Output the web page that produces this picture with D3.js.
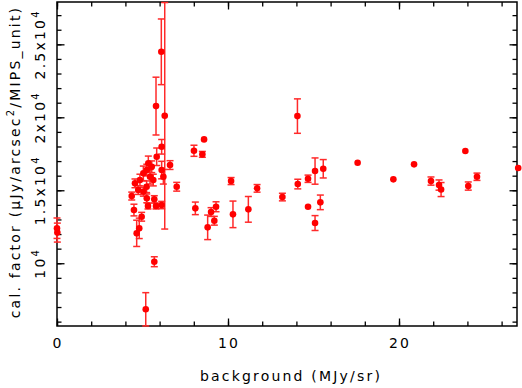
<!DOCTYPE html>
<html>
<head>
<meta charset="utf-8">
<style>
  body { margin: 0; background: #fff; }
  svg { display: block; }
  text { font-family: "DejaVu Sans", sans-serif; font-size: 14px; letter-spacing: 2.2px; fill: #000; }
  .tick line { stroke: #000; stroke-width: 1.3; }
  .domain { display: none; }
</style>
</head>
<body>
<script src="https://d3js.org/d3.v7.min.js"></script>
<script>

var width = 522,
    height = 388;
var margin = {"top": 2, "right": 5, "bottom": 62, "left": 57};

// background (MJy/sr)
var bgValues = [
  0.00, 0.02,
  4.37, 4.50, 4.66, 4.81, 4.56, 4.85, 5.05, 5.25, 5.34, 5.54, 5.83, 6.12, 6.61, 7.00,
  6.12, 5.05, 5.25, 5.69, 4.95, 4.75, 5.44, 5.63, 6.12, 6.22, 5.24, 5.32, 5.79,
  5.69, 5.19, 6.10, 5.79, 6.30,
  8.01, 8.60, 8.50, 8.09, 8.81, 9.01, 9.20, 9.30, 10.18, 10.29, 11.19, 11.70, 13.18,
  14.08, 14.06, 14.68, 14.68, 15.09, 15.09, 15.40, 15.57,
  17.58, 19.67, 20.88, 21.87, 22.34, 22.46, 23.88, 24.05, 24.56, 26.97
];

// cal. factor
var calValues = [
  12400, 12100,
  14604, 13645, 12049, 12391, 15474, 15700, 16158, 16384, 16843, 16611, 17296, 17980, 16727, 15241,
  13987, 14898, 14446, 14378, 13186, 15015, 15926, 15700, 16384, 15926, 15241, 13919, 13919,
  10104, 6844, 24487, 20768, 20103,
  17706, 18487, 17460, 13761, 12460, 13508, 12912, 13871, 15631, 13350, 13693, 15131, 14535,
  15426, 20083, 15789, 13871, 16316, 12754, 14172, 16473,
  16884, 15747, 16775, 15631, 15357, 15049, 17686, 15289, 15926, 16522
];

// error on cal. factor
var calErrors = [
  700, 650,
  270, 400, 900, 700, 300, 400, 500, 400, 500, 400, 600, 500, 300, 300,
  250, 300, 300, 250, 300, 300, 500, 400, 600, 500, 400, 200, 200,
  340, 1140, 2250, 1980, 7760,
  380, 0, 200, 430, 840, 300, 300, 340, 240, 910, 880, 260, 260,
  330, 1180, 250, 0, 900, 510, 500, 630,
  0, 0, 0, 280, 350, 480, 0, 280, 250, 0
];

var xMajor = [0, 10, 20];
var yMajor = [10000, 15000, 20000, 25000];
var yMajorLabels = [["10", "4"], ["1.5x10", "4"], ["2x10", "4"], ["2.5x10", "4"]];

var data = bgValues.map(function(d, i) {
  return {"x": d, "y": calValues[i], "e": calErrors[i]};
});

var svg = d3.select("body").append("svg")
    .attr("width", width)
    .attr("height", height);

var x = d3.scaleLinear().domain([0, 26.9]).range([margin.left, width - margin.right]);
var y = d3.scaleLinear().domain([5700, 27900]).range([height - margin.bottom, margin.top]);

var x0 = margin.left, x1 = width - margin.right;
var y0 = height - margin.bottom, y1 = margin.top;

// ticks on all four sides, pointing in
function ticks(axis, pos, values, size) {
  svg.append("g")
    .attr("transform", pos)
    .call(axis.tickValues(values).tickSizeInner(-size).tickSizeOuter(0).tickFormat(""));
}
var xMinor = d3.range(0, 27, 2);
var yMinor = d3.range(6000, 28000, 1000);

ticks(d3.axisBottom(x), "translate(0," + y0 + ")", xMinor, 4.5);
ticks(d3.axisBottom(x), "translate(0," + y0 + ")", xMajor, 7.5);
ticks(d3.axisTop(x), "translate(0," + y1 + ")", xMinor, 4.5);
ticks(d3.axisTop(x), "translate(0," + y1 + ")", xMajor, 7.5);
ticks(d3.axisLeft(y), "translate(" + x0 + ",0)", yMinor, 4.5);
ticks(d3.axisLeft(y), "translate(" + x0 + ",0)", yMajor, 7.5);
ticks(d3.axisRight(y), "translate(" + x1 + ",0)", yMinor, 4.5);
ticks(d3.axisRight(y), "translate(" + x1 + ",0)", yMajor, 7.5);

// frame
svg.append("rect")
  .attr("x", x0).attr("y", y1)
  .attr("width", x1 - x0).attr("height", y0 - y1)
  .attr("fill", "none")
  .attr("stroke", "#000")
  .attr("stroke-width", 1.5);

// x tick labels
svg.selectAll(".xlab")
  .data(xMajor)
  .enter().append("text")
  .attr("class", "xlab")
  .attr("x", function(d) { return x(d) + 1; })
  .attr("y", 348)
  .attr("text-anchor", "middle")
  .text(function(d) { return d; });

// y tick labels, rotated, with superscript
var ylab = svg.selectAll(".ylab")
  .data(yMajor)
  .enter().append("text")
  .attr("class", "ylab")
  .attr("text-anchor", "middle")
  .attr("transform", function(d) { return "translate(45," + y(d) + ") rotate(-90)"; });
ylab.append("tspan").text(function(d, i) { return yMajorLabels[i][0]; });
ylab.append("tspan")
  .attr("dy", -6)
  .style("font-size", "10px")
  .text(function(d, i) { return yMajorLabels[i][1]; });

// axis titles
svg.append("text")
  .attr("x", (x0 + x1) / 2 + 4)
  .attr("y", 381)
  .attr("text-anchor", "middle")
  .text("background (MJy/sr)");

var ytitle = svg.append("text")
  .attr("text-anchor", "middle")
  .attr("transform", "translate(20," + ((y0 + y1) / 2 - 2) + ") rotate(-90)");
ytitle.append("tspan").text("cal. factor (\u03bcJy/arcsec");
ytitle.append("tspan").attr("dy", -6).style("font-size", "10px").text("2");
ytitle.append("tspan").attr("dy", 6).text("/MIPS_unit)");

// error bars
var bars = svg.append("g")
  .attr("stroke", "#ff2a2a")
  .attr("stroke-width", 1.5)
  .selectAll("g")
  .data(data.filter(function(d) { return d.e > 0; }))
  .enter().append("g");

bars.append("line")
  .attr("x1", function(d) { return x(d.x); })
  .attr("x2", function(d) { return x(d.x); })
  .attr("y1", function(d) { return y(d.y - d.e); })
  .attr("y2", function(d) { return y(d.y + d.e); });
bars.append("line")
  .attr("x1", function(d) { return x(d.x) - 3.5; })
  .attr("x2", function(d) { return x(d.x) + 3.5; })
  .attr("y1", function(d) { return y(d.y - d.e); })
  .attr("y2", function(d) { return y(d.y - d.e); });
bars.append("line")
  .attr("x1", function(d) { return x(d.x) - 3.5; })
  .attr("x2", function(d) { return x(d.x) + 3.5; })
  .attr("y1", function(d) { return y(d.y + d.e); })
  .attr("y2", function(d) { return y(d.y + d.e); });

// points
svg.append("g")
  .selectAll("circle")
  .data(data)
  .enter().append("circle")
  .attr("cx", function(d) { return x(d.x); })
  .attr("cy", function(d) { return y(d.y); })
  .attr("r", 3.3)
  .attr("fill", "#ff0000");

</script>
</body>
</html>
